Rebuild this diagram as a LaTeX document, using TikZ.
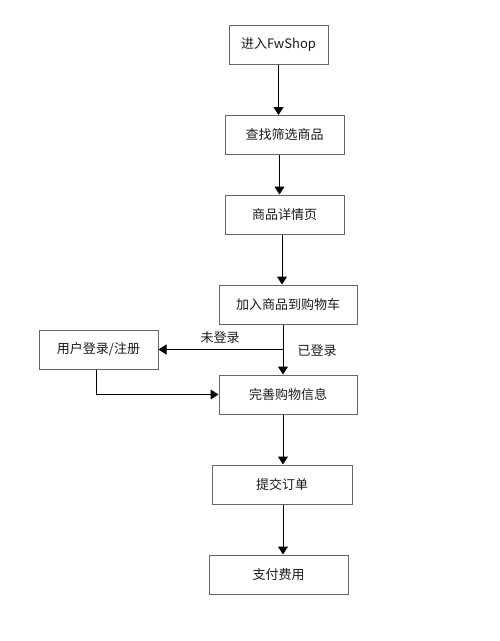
\documentclass[tikz,border=0pt]{standalone}
\usepackage{fontspec}
\usepackage{xcolor}
\usepackage{tikz}
\usetikzlibrary{arrows.meta}
\setmainfont{Noto Sans CJK SC}
\definecolor{edge}{HTML}{000000}
\definecolor{frame}{HTML}{666666}
\definecolor{ink}{HTML}{1A1A1A}
\tikzset{
  box/.style={draw=frame, line width=1pt, minimum height=39pt, inner sep=0pt,
    font=\fontsize{13pt}{15pt}\selectfont, text=ink},
  link/.style={draw=edge, line width=1pt, -{Triangle[length=8pt,width=10pt]}},
  lab/.style={text=ink, font=\fontsize{13pt}{15pt}\selectfont, inner sep=0pt}
}

\begin{document}
\begin{tikzpicture}[x=1pt, y=-1pt]
  \useasboundingbox (0,0) rectangle (500,641);

  \node[box, minimum width=99pt] (enter) at (278.5,44.5) {进入FwShop};
  \node[box, minimum width=119pt] (search) at (284.5,135) {查找筛选商品};
  \node[box, minimum width=119pt] (detail) at (284.5,214.5) {商品详情页};
  \node[box, minimum width=138pt] (cart) at (288,304.5) {加入商品到购物车};
  \node[box, minimum width=119pt] (login) at (98.5,349.5) {用户登录/注册};
  \node[box, minimum width=138pt] (info) at (288,394.5) {完善购物信息};
  \node[box, minimum width=140pt] (order) at (282,484.5) {提交订单};
  \node[box, minimum width=139pt] (pay) at (278.5,574.5) {支付费用};

  \draw[link] (enter.south) -- (enter.south |- search.north);
  \draw[link] ([xshift=-5pt]search.south) -- ([xshift=-5pt]search.south |- detail.north);
  \draw[link] ([xshift=-2.5pt]detail.south) -- ([xshift=-2.5pt]detail.south |- cart.north);
  \draw[link] ([xshift=-5pt]cart.south) -- ([xshift=-5pt]cart.south |- info.north);
  \coordinate (split) at ([xshift=-5pt]cart.south |- login.east);
  \draw[link] (split) -- (login.east);
  \draw[link] ([xshift=-2.5pt]login.south) |- (info.west);
  \draw[link] ([xshift=-5pt]info.south) -- ([xshift=-5pt]info.south |- order.north);
  \draw[link] ([xshift=1pt]order.south) -- ([xshift=1pt]order.south |- pay.north);

  \node[lab] at (220,338) {未登录};
  \node[lab] at (317,351) {已登录};
\end{tikzpicture}
\end{document}
